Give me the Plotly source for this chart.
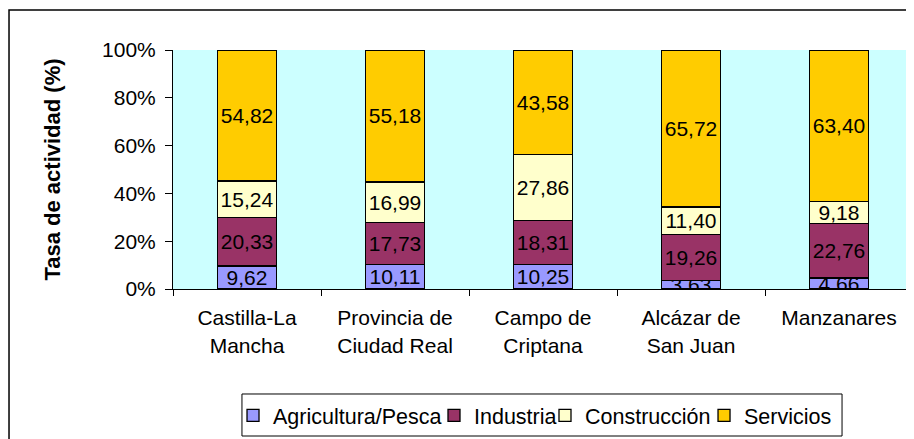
import plotly.graph_objects as go

categories = ["Castilla-La<br>Mancha", "Provincia de<br>Ciudad Real", "Campo de<br>Criptana",
              "Alcázar de<br>San Juan", "Manzanares"]
series_names = ["Agricultura/Pesca", "Industria", "Construcción", "Servicios"]
agricultura = [9.62, 10.11, 10.25, 3.63, 4.66]
industria = [20.33, 17.73, 18.31, 19.26, 22.76]
construccion = [15.24, 16.99, 27.86, 11.40, 9.18]
servicios = [54.82, 55.18, 43.58, 65.72, 63.40]
colors = ["#9999FF", "#993366", "#FFFFCC", "#FFCC00"]
y_ticks = [0, 20, 40, 60, 80, 100]
y_tick_labels = ["0%", "20%", "40%", "60%", "80%", "100%"]
grid_vals = [20, 40, 60, 80]

FONT = "Arial, Liberation Sans, sans-serif"

# legend entry positions (paper coords) - one legend per series, mimicking Excel's tight spacing
legend_x = [0.0811, 0.3527, 0.5027, 0.7176]
legend_ids = ["legend", "legend2", "legend3", "legend4"]

fig = go.Figure()
for name, vals, col, lid in zip(series_names, [agricultura, industria, construccion, servicios],
                                colors, legend_ids):
    fig.add_trace(go.Bar(
        name=name, x=categories, y=vals, legend=lid,
        marker=dict(color=col, line=dict(color="black", width=1.3)),
        text=[f"{v:.2f}".replace(".", ",") for v in vals],
        textposition="inside", insidetextanchor="middle", textangle=0,
        constraintext="none",
        textfont=dict(family=FONT, size=21, color="black"),
        hoverinfo="skip",
    ))

legend_common = dict(orientation="h", xanchor="left", y=-0.4435, yanchor="top",
                     borderwidth=0, bgcolor="rgba(0,0,0,0)",
                     font=dict(family=FONT, size=21.5), itemwidth=30)
layout_legends = {lid: dict(x=lx, **legend_common) for lid, lx in zip(legend_ids, legend_x)}

fig.update_layout(
    barmode="stack", barnorm="percent", bargap=0.6,
    width=906, height=431,
    margin=dict(l=165, r=1, t=42, b=150),
    paper_bgcolor="white", plot_bgcolor="#CCFFFF",
    font=dict(family=FONT, color="black"),
    uniformtext=dict(minsize=21, mode="show"),
    showlegend=True,
    shapes=[
        dict(type="rect", xref="paper", yref="paper", x0=-0.2216, x1=1.05,
             y0=-0.75, y1=1.1674, line=dict(color="black", width=1.5),
             fillcolor="rgba(0,0,0,0)", layer="below"),
        dict(type="rect", xref="paper", yref="paper", x0=0.0932, x1=0.9041,
             y0=-0.6151, y1=-0.4393, line=dict(color="black", width=1),
             fillcolor="white", layer="below"),
    ],
    yaxis2=dict(overlaying="y", range=[0, 100], tickvals=grid_vals, showgrid=True,
                gridcolor="black", gridwidth=1, showticklabels=False, ticks="",
                zeroline=False, showline=False),
    **layout_legends,
)
fig.update_xaxes(showline=True, linecolor="black", linewidth=1, ticks="outside",
                 tickson="boundaries", ticklen=6, tickcolor="black",
                 tickfont=dict(family=FONT, size=21), ticklabelstandoff=10)
fig.update_layout(yaxis=dict(range=[0, 100], tickvals=y_ticks, ticktext=y_tick_labels,
                 showline=True, linecolor="black", linewidth=1, ticks="outside",
                 ticklen=7, tickcolor="black", showgrid=False,
                 zeroline=False, tickfont=dict(family=FONT, size=21), ticklabelstandoff=5,
                 title=dict(text="<b>Tasa de actividad (%)</b>", standoff=35,
                            font=dict(family=FONT, size=22))))

fig.write_html("out.html")
